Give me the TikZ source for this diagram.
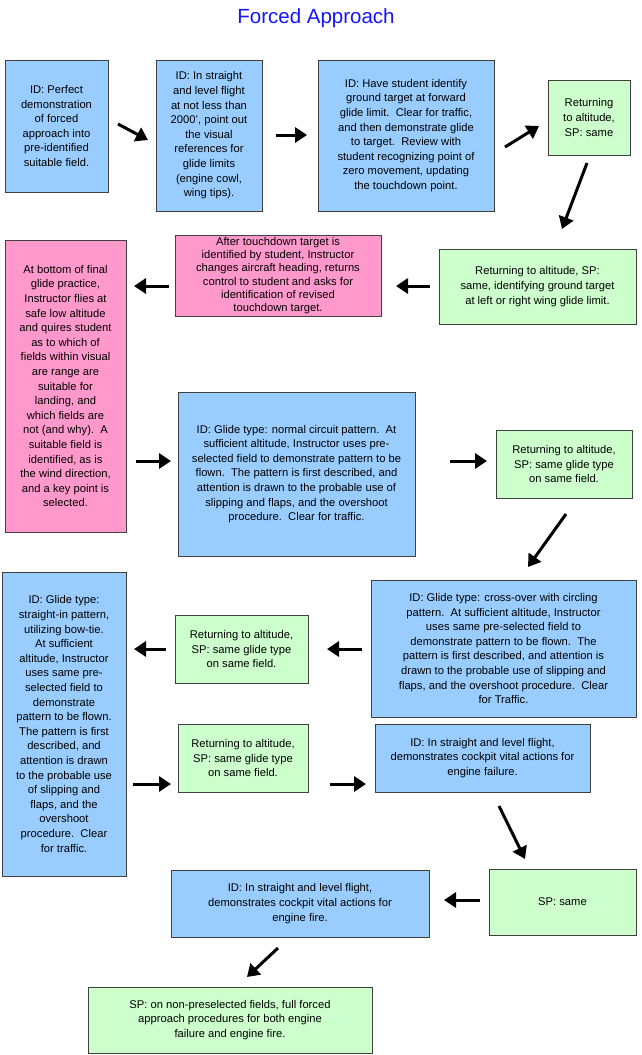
\documentclass[tikz,border=0pt]{standalone}
\usepackage{fontspec}
\setmainfont{Liberation Sans}
\usetikzlibrary{arrows.meta}
\definecolor{bfill}{RGB}{153,204,255}
\definecolor{gfill}{RGB}{204,255,204}
\definecolor{pfill}{RGB}{255,153,204}
\definecolor{tblue}{RGB}{20,20,255}
\begin{document}
\begin{tikzpicture}[x=1pt,y=-1pt,
  box/.style={draw=black!75,line width=0.6pt,align=center,inner sep=0pt,font=\fontsize{11.2}{14.6}\selectfont},
  blue/.style={box,fill=bfill},green/.style={box,fill=gfill},pink/.style={box,fill=pfill},
  arr/.style={line width=3pt,-{Triangle[length=12pt,width=15pt]}}]
\useasboundingbox (0,0) rectangle (641,1055);
\newcommand\bx[7]{\node[#1,minimum width=#4-#2,minimum height=#5-#3] (#6) at ({(#2+#4)/2},{(#3+#5)/2}) {#7};}
\node[font=\fontsize{20.5}{24}\selectfont,text=tblue] (title) at (316,18) {Forced Approach};
\bx{blue}{5}{60}{108}{192}{b1}{ID: Perfect\\demonstration\\of forced\\approach into\\pre-identified\\suitable field.}
\bx{blue}{156}{60}{262}{211}{b2}{ID: In straight\\and level flight\\at not less than\\2000', point out\\the visual\\references for\\glide limits\\(engine cowl,\\wing tips).}
\bx{blue}{318}{60}{494}{211}{b3}{ID: Have student identify\\ground target at forward\\glide limit.\ \ Clear for traffic,\\and then demonstrate glide\\to target.\ \ Review with\\student recognizing point of\\zero movement, updating\\the touchdown point.}
\bx{green}{548}{80}{630}{155}{b4}{Returning\\to altitude,\\SP: same}
\bx{green}{439}{249}{636}{324}{b5}{Returning to altitude, SP:\\same, identifying ground target\\at left or right wing glide limit.}
\bx{pink,font=\fontsize{11.2}{13.2}\selectfont}{175}{235}{381}{316}{b6}{After touchdown target is\\identified by student, Instructor\\changes aircraft heading, returns\\control to student and asks for\\identification of revised\\touchdown target.}
\bx{pink}{5}{240}{126}{532}{b7}{At bottom of final\\glide practice,\\Instructor flies at\\safe low altitude\\and quires student\\as to which of\\fields within visual\\are range are\\suitable for\\landing, and\\which fields are\\not (and why).\ \ A\\suitable field is\\identified, as is\\the wind direction,\\and a key point is\\selected.}
\bx{blue}{178}{392}{415}{556}{b8}{ID: Glide type: normal circuit pattern.\ \ At\\sufficient altitude, Instructor uses pre-\\selected field to demonstrate pattern to be\\flown.\ \ The pattern is first described, and\\attention is drawn to the probable use of\\slipping and flaps, and the overshoot\\procedure.\ \ Clear for traffic.}
\bx{green}{496}{430}{632}{498}{b9}{Returning to altitude,\\SP: same glide type\\on same field.}
\bx{blue}{371}{580}{636}{717}{b10}{ID: Glide type: cross-over with circling\\pattern.\ \ At sufficient altitude, Instructor\\uses same pre-selected field to\\demonstrate pattern to be flown.\ \ The\\pattern is first described, and attention is\\drawn to the probable use of slipping and\\flaps, and the overshoot procedure.\ \ Clear\\for Traffic.}
\bx{green}{175}{615}{308}{683}{b11}{Returning to altitude,\\SP: same glide type\\on same field.}
\bx{blue}{2}{572}{126}{876}{b12}{ID: Glide type:\\straight-in pattern,\\utilizing bow-tie.\\At sufficient\\altitude, Instructor\\uses same pre-\\selected field to\\demonstrate\\pattern to be flown.\\The pattern is first\\described, and\\attention is drawn\\to the probable use\\of slipping and\\flaps, and the\\overshoot\\procedure.\ \ Clear\\for traffic.}
\bx{green}{178}{724}{308}{792}{b13}{Returning to altitude,\\SP: same glide type\\on same field.}
\bx{blue}{375}{724}{590}{792}{b14}{ID: In straight and level flight,\\demonstrates cockpit vital actions for\\engine failure.}
\bx{green}{489}{869}{636}{935}{b15}{SP: same}
\bx{blue}{171}{870}{429}{937}{b16}{ID: In straight and level flight,\\demonstrates cockpit vital actions for\\engine fire.}
\bx{green}{88}{987}{372}{1053}{b17}{SP: on non-preselected fields, full forced\\approach procedures for both engine\\failure and engine fire.}
\foreach \n/\ax/\ay/\bxx/\by in {1/118/124/148/140, 2/276/135/307/135, 3/505/147/539/126, 4/587/163/562/229, 5/430/286/396/286, 6/169/286/134/286, 7/136/461/171/461, 8/450/461/487/461, 9/566/514/528/567, 10/362/649/327/649, 11/166/649/134/649, 12/133/784/171/784, 13/330/784/366/784, 14/499/806/525/859, 15/480/900/444/900, 16/278/948/247/977}{
  \coordinate (s\n) at (\ax,\ay); \coordinate (e\n) at (\bxx,\by);
  \draw[arr] (s\n) -- (e\n);}
\end{tikzpicture}
\end{document}
